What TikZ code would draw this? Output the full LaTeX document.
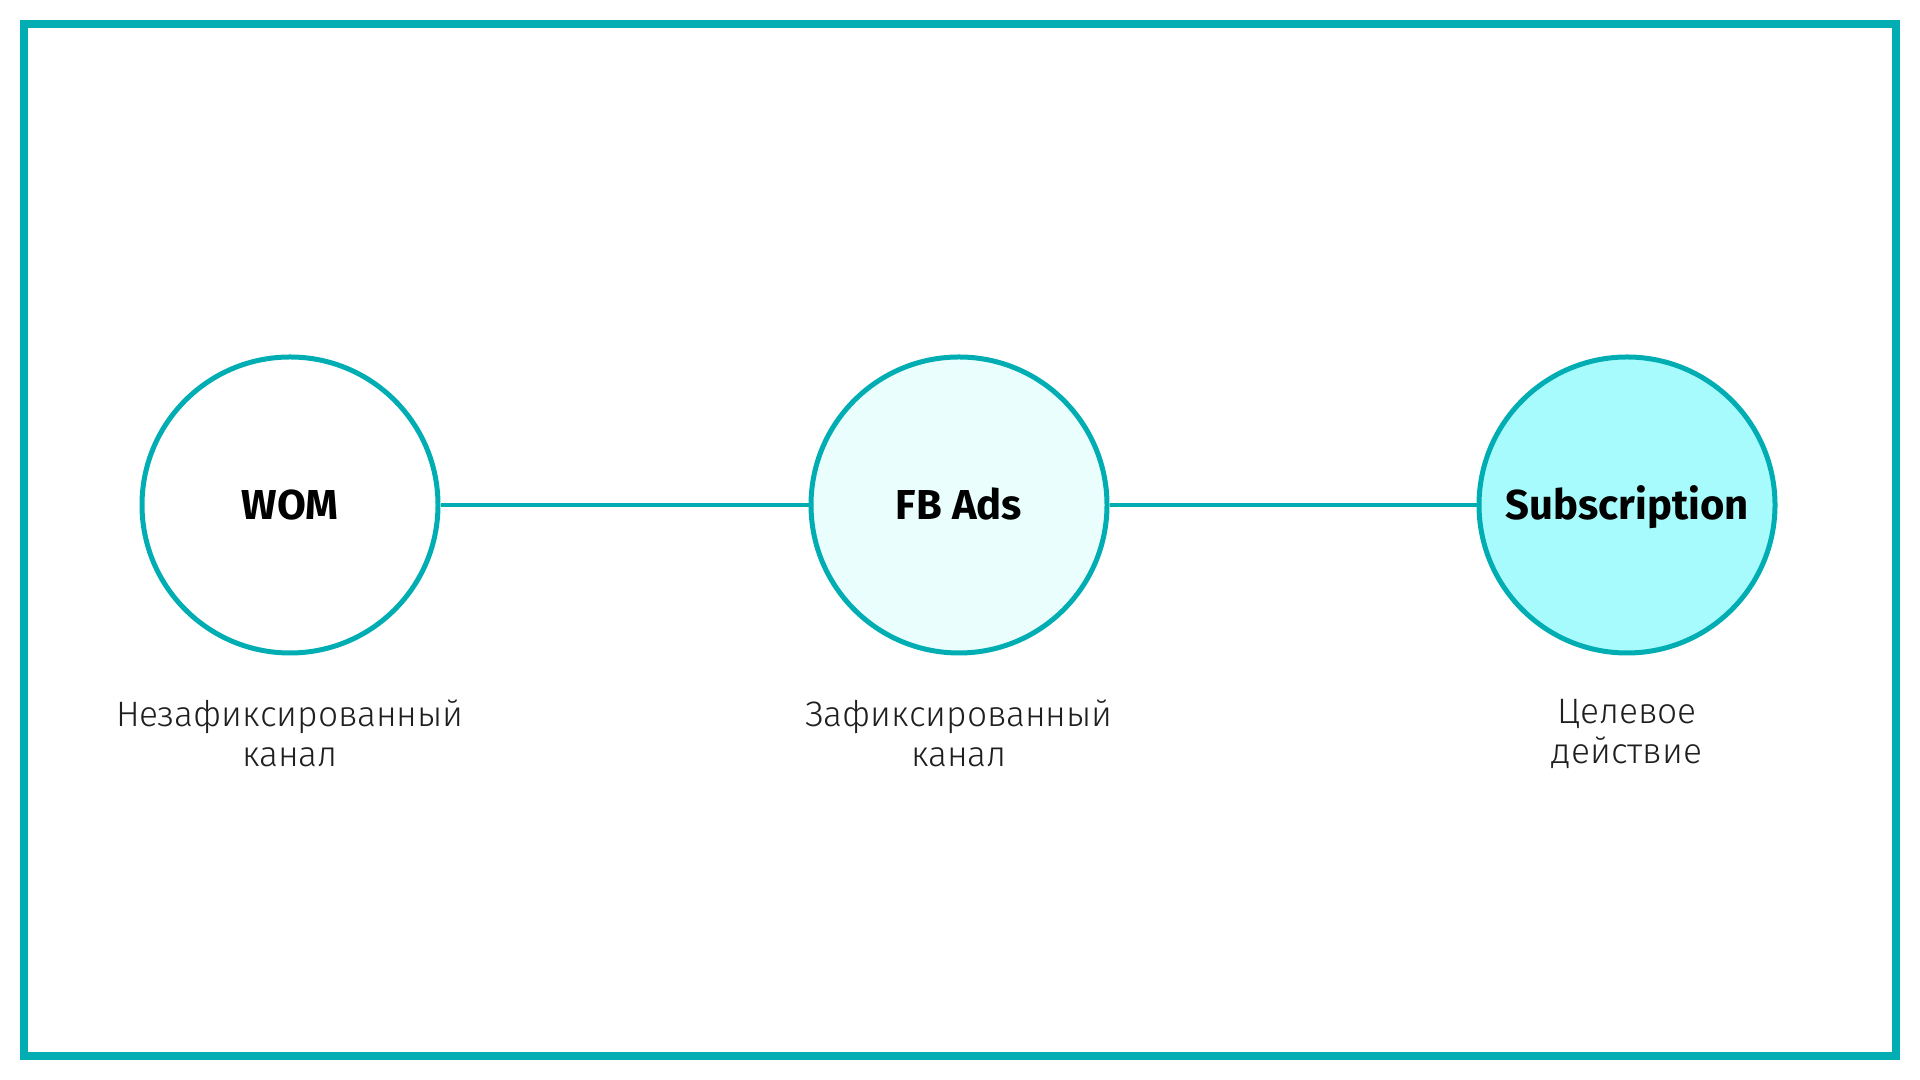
\documentclass[tikz,border=0pt]{standalone}
\usepackage{fontspec}
\setmainfont{Fira Sans}
\IfFontExistsTF{Fira Sans Light}
  {\newfontfamily\thinfont{Fira Sans Light}}
  {\IfFontExistsTF{Lato Light}
    {\newfontfamily\thinfont{Lato Light}}
    {\newfontfamily\thinfont{Fira Sans}}}
\usetikzlibrary{positioning}

\definecolor{chanline}{RGB}{0,173,178}
\definecolor{fbfill}{RGB}{234,254,254}
\definecolor{subfill}{RGB}{168,251,252}

\begin{document}
\begin{tikzpicture}[
  stage/.style={circle, draw=chanline, line width=0.5mm, minimum size=2.96cm,
    inner sep=0pt, font=\fontsize{11.9}{14}\selectfont\bfseries,
    text height=8.3pt, text depth=0pt},
  caption/.style={align=center, inner sep=0pt,
    font=\thinfont\fontsize{10.05}{11.4}\selectfont, text=black!88},
  line/.style={draw=chanline, line width=0.45mm}
]
  \useasboundingbox (0,0) rectangle (19.2,10.8);
  \draw[chanline, line width=0.8mm] (0.24,0.24) rectangle (18.96,10.56);

  \node[stage] (wom) at (2.90,5.75) {WOM};
  \node[stage, fill=fbfill] (fb) at (9.59,5.75) {FB Ads};
  \node[stage, fill=subfill] (sub) at (16.27,5.75) {Subscription};

  \node[caption, below=4.35mm of wom] (womtext) {Незафиксированный\\канал};
  \node[caption, below=4.35mm of fb] (fbtext) {Зафиксированный\\канал};
  \node[caption, below=4.35mm of sub] (subtext) {Целевое\\действие};

%  \path[-stealth]
  \path[line]
  (wom) edge (fb)
  (fb) edge (sub);
\end{tikzpicture}
\end{document}
